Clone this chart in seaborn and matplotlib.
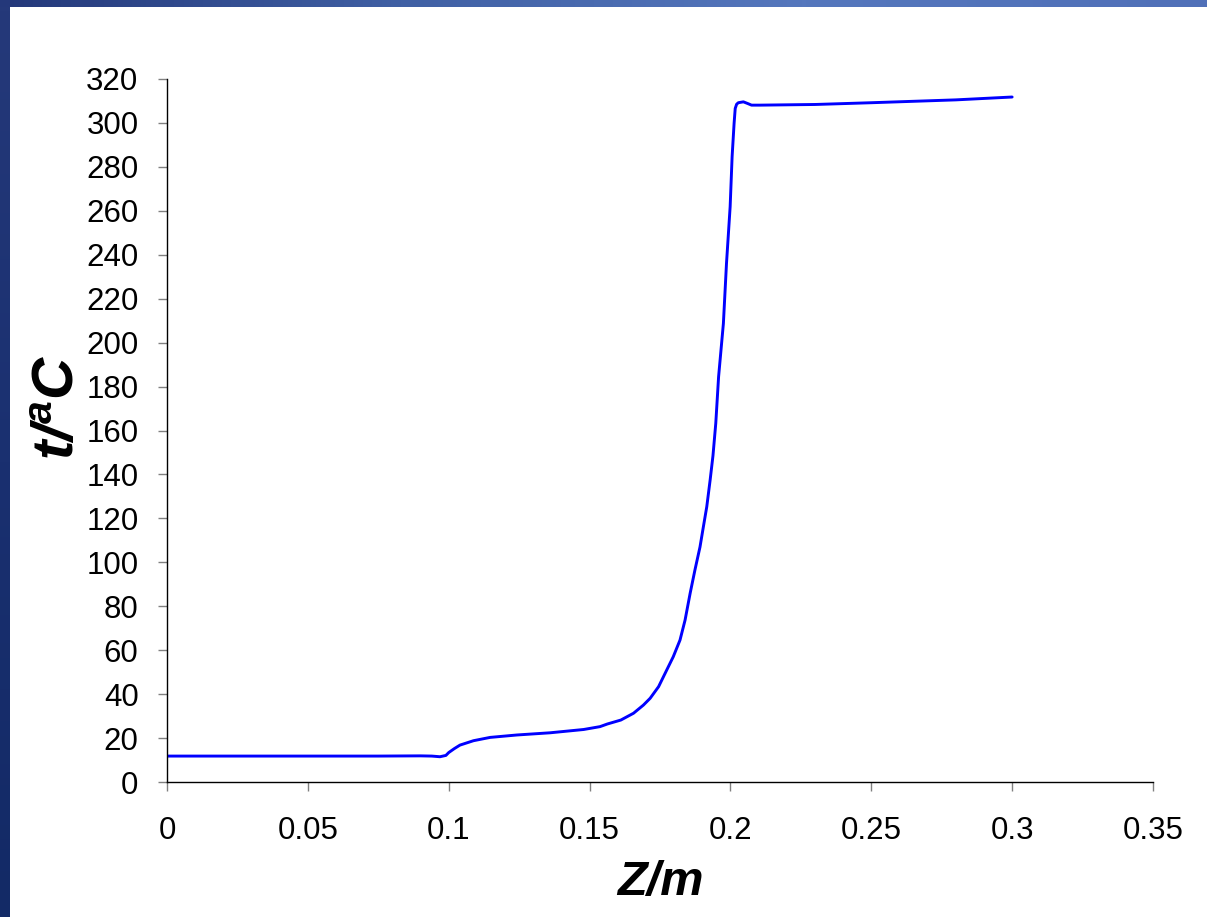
import numpy as np
import pandas as pd
import matplotlib
matplotlib.use("Agg")
import matplotlib.pyplot as plt
import seaborn as sns
from matplotlib.colors import LinearSegmentedColormap

# Data
z_m = [0, 0.025, 0.05, 0.075, 0.09, 0.094, 0.0969, 0.099, 0.1, 0.102, 0.104, 0.1088,
       0.1147, 0.1242, 0.136, 0.1479, 0.1537, 0.1563, 0.1611, 0.1656, 0.1691, 0.1715,
       0.1745, 0.1774, 0.1797, 0.1821, 0.1839, 0.1857, 0.1874, 0.1892, 0.1904, 0.1916,
       0.1928, 0.1938, 0.1948, 0.1958, 0.1975, 0.1986, 0.1999, 0.2006, 0.2013, 0.2017,
       0.2022, 0.2028, 0.2046, 0.2062, 0.2075, 0.2105, 0.23, 0.25, 0.28, 0.3]
t_c = [11.8, 11.8, 11.8, 11.8, 11.9, 11.8, 11.5, 12.1, 13.4, 15.2, 16.8, 18.8,
       20.3, 21.4, 22.4, 23.9, 25.2, 26.4, 28.2, 31.3, 35, 38.1,
       43.4, 51, 57, 64.6, 73.7, 85.9, 96.5, 107, 116.2, 125.3,
       137.5, 148.5, 163.3, 184.5, 208.7, 236, 261.9, 284.7, 299.8, 306.6,
       308.5, 309.2, 309.6, 308.8, 308.1, 308.1, 308.4, 309.2, 310.5, 311.8]
x_ticks = [0, 0.05, 0.1, 0.15, 0.2, 0.25, 0.3, 0.35]
x_tick_labels = ["0", "0.05", "0.1", "0.15", "0.2", "0.25", "0.3", "0.35"]
y_ticks = list(range(0, 321, 20))

sns.set_theme(style="white")
plt.rcParams['font.family'] = ['Liberation Sans', 'DejaVu Sans']
plt.rcParams['mathtext.fontset'] = 'custom'
plt.rcParams['mathtext.it'] = 'Liberation Sans:bold:italic'
plt.rcParams['mathtext.rm'] = 'Liberation Sans:bold:italic'
plt.rcParams['mathtext.bf'] = 'Liberation Sans:bold:italic'
plt.rcParams['text.color'] = 'black'
plt.rcParams['axes.labelcolor'] = 'black'

fig = plt.figure(figsize=(12.07, 9.17), dpi=100)
fig.patch.set_facecolor("white")

# slide decoration: top band and left band gradients
bg = fig.add_axes([0, 0, 1, 1], zorder=-10)
bg.set_xlim(0, 1207)
bg.set_ylim(917, 0)
bg.axis("off")
top_grad = np.linspace(0, 1, 256).reshape(1, -1)
cm_top = LinearSegmentedColormap.from_list("top", ["#24387a", "#4060a4", "#5577bd", "#5070b8"])
bg.imshow(top_grad, cmap=cm_top, extent=(0, 1207, 7, 0), aspect="auto")
left_grad = np.linspace(0, 1, 256).reshape(-1, 1)
cm_left = LinearSegmentedColormap.from_list("left", ["#25397a", "#1a3070", "#132a66"])
bg.imshow(left_grad, cmap=cm_left, extent=(0, 10, 917, 7), aspect="auto")

ax = fig.add_axes([167 / 1207, 135 / 917, 986 / 1207, 703 / 917])
ax.set_facecolor("white")
df = pd.DataFrame({"Z": z_m, "t": t_c})
sns.lineplot(data=df, x="Z", y="t", ax=ax, color="#0000FF", linewidth=2.1,
             estimator=None, sort=False)

ax.set_xlim(0, 0.35)
ax.set_ylim(0, 320)
ax.set_xticks(x_ticks)
ax.set_xticklabels(x_tick_labels)
ax.set_yticks(y_ticks)
ax.tick_params(axis="both", which="major", direction="out", length=6.5, width=1,
               color="#808080", labelsize=22.5, labelcolor="black", bottom=True, left=True)
ax.tick_params(axis="x", pad=18)
ax.tick_params(axis="y", pad=14)
for side in ["top", "right"]:
    ax.spines[side].set_visible(False)
for side in ["left", "bottom"]:
    ax.spines[side].set_color("black")
    ax.spines[side].set_linewidth(1.0)
ax.grid(False)

ax.set_xlabel("Z/m", fontsize=35, fontweight="bold", style="italic", color="black", labelpad=10)
ax.set_ylabel(r"$t/^{a}C$", fontsize=42, color="black")
ax.yaxis.set_label_coords(-0.082, 0.533)

fig.savefig("out.png", dpi=100, facecolor="white")
